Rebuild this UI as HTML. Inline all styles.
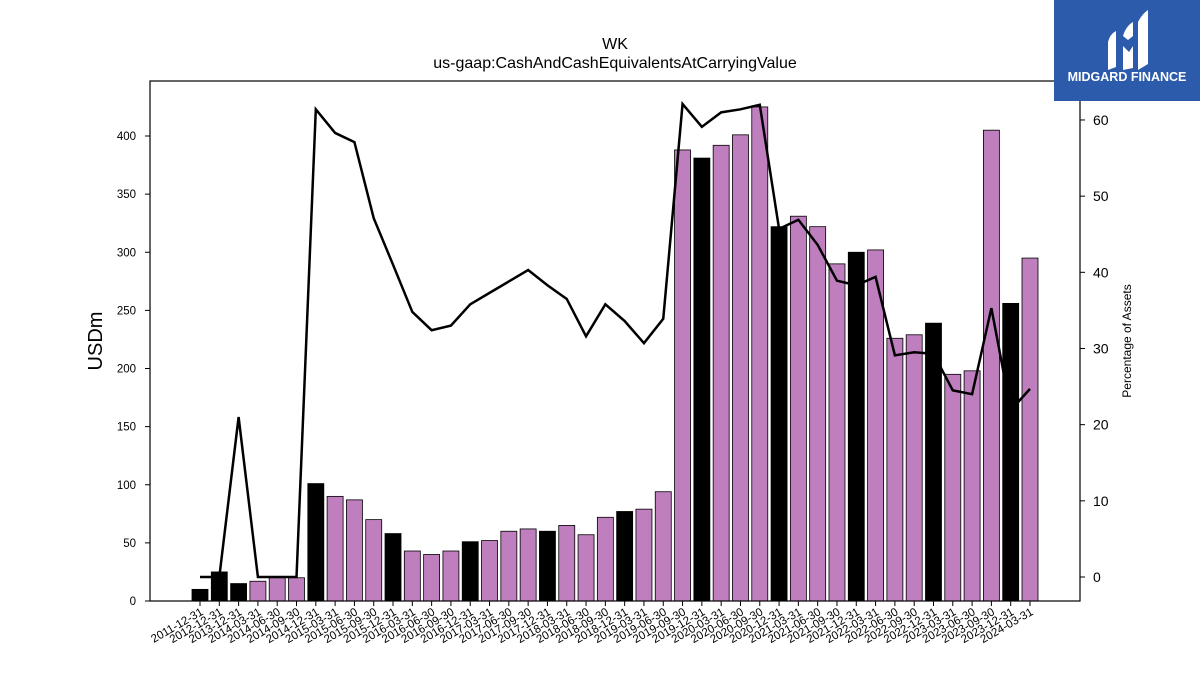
<!DOCTYPE html>
<html><head><meta charset="utf-8"><style>
html,body{margin:0;padding:0;background:#fff;}
svg{display:block;font-family:"Liberation Sans",sans-serif;}
</style></head><body>
<svg id="chart" width="1200" height="675" viewBox="0 0 1200 675" xmlns="http://www.w3.org/2000/svg">
<text x="615" y="49" text-anchor="middle" font-size="16">WK</text>
<text x="615" y="68" text-anchor="middle" font-size="16">us-gaap:CashAndCashEquivalentsAtCarryingValue</text>
<g id="bars"></g>
<g id="xticks"></g>
<g id="yticks"></g>
<g id="rticks"></g>
<path id="pctline" fill="none" stroke="#000" stroke-width="2.5"/>
<rect x="150" y="81" width="930" height="520" fill="none" stroke="#000" stroke-width="1.2"/>
<text x="102" y="341" text-anchor="middle" font-size="20" transform="rotate(-90 102 341)">USDm</text>
<text x="1131" y="341" text-anchor="middle" font-size="12" transform="rotate(-90 1131 341)">Percentage of Assets</text>
<g>
<rect x="1054" y="0" width="146" height="101" fill="#2d5bab"/>
<path d="M1108 70 L1108 42 Q1110 34 1116 31 L1116 67 Z" fill="#fff"/>
<path d="M1123 70 L1123 46 L1129 52 L1133 46 L1133 68 Z" fill="#fff"/>
<path d="M1123 36 Q1126 26 1133 22 L1133 36 L1128 40 Z" fill="#fff"/>
<path d="M1138 70 L1138 22 Q1142 14 1148 10 L1148 64 Z" fill="#fff"/>
<text x="1127" y="81" text-anchor="middle" font-size="12.5" font-weight="bold" fill="#fff">MIDGARD FINANCE</text>
</g>
</svg>
<script>
const categories=["2011-12-31","2012-12-31","2013-12-31","2014-03-31","2014-06-30","2014-09-30","2014-12-31","2015-03-31","2015-06-30","2015-09-30","2015-12-31","2016-03-31","2016-06-30","2016-09-30","2016-12-31","2017-03-31","2017-06-30","2017-09-30","2017-12-31","2018-03-31","2018-06-30","2018-09-30","2018-12-31","2019-03-31","2019-06-30","2019-09-30","2019-12-31","2020-03-31","2020-06-30","2020-09-30","2020-12-31","2021-03-31","2021-06-30","2021-09-30","2021-12-31","2022-03-31","2022-06-30","2022-09-30","2022-12-31","2023-03-31","2023-06-30","2023-09-30","2023-12-31","2024-03-31"];
const cashValues=[10,25,15,17,20,20,101,90,87,70,58,43,40,43,51,52,60,62,60,65,57,72,77,79,94,388,381,392,401,425,322,331,322,290,300,302,226,229,239,195,198,405,256,295];
const pctValues=[0,0,21,0,0,0,61.4,58.3,57.1,47.1,41,34.8,32.4,33,35.8,37.3,38.8,40.3,38.3,36.5,31.6,35.8,33.6,30.7,33.9,62.1,59.1,61,61.4,62,45.7,46.9,43.6,38.9,38.3,39.4,29.1,29.5,29.3,24.5,24,35.3,21.9,24.7];
const annualFlags=[1,1,1,0,0,0,1,0,0,0,1,0,0,0,1,0,0,0,1,0,0,0,1,0,0,0,1,0,0,0,1,0,0,0,1,0,0,0,1,0,0,0,1,0];
const leftTicks=[0,50,100,150,200,250,300,350,400];
const rightTicks=[0,10,20,30,40,50,60];
const NS="http://www.w3.org/2000/svg";
const xPos=i=>200+i*(830/(categories.length-1));
const yL=v=>601-v*1.1625;
const yR=v=>577-v*7.617;
function mk(t,a,p){const e=document.createElementNS(NS,t);for(const k in a)e.setAttribute(k,a[k]);p.appendChild(e);return e;}
const bars=document.getElementById('bars'),xt=document.getElementById('xticks'),yt=document.getElementById('yticks'),rt=document.getElementById('rticks');
cashValues.forEach((v,i)=>{
 const r=mk('rect',{x:xPos(i)-8,y:yL(v),width:16,height:yL(0)-yL(v),fill:annualFlags[i]?'#000':'#bf7fbf',stroke:'#000','stroke-width':0.8},bars);
 
 
});
categories.forEach((c,i)=>{
 const x=xPos(i);
 mk('line',{x1:x,y1:601,x2:x,y2:606,stroke:'#000'},xt);
 const t=mk('text',{x:x+4,y:614,'text-anchor':'end','font-size':11.5,transform:`rotate(-30 ${x+4} 614)`},xt);
 t.textContent=c;
 
 
});
leftTicks.forEach(v=>{
 const y=yL(v);
 mk('line',{x1:145,y1:y,x2:150,y2:y,stroke:'#000'},yt);
 const t=mk('text',{x:136,y:y+4,'text-anchor':'end','font-size':11.5},yt);
 t.textContent=v;
 
 
});
rightTicks.forEach(v=>{
 const y=yR(v);
 mk('line',{x1:1080,y1:y,x2:1085,y2:y,stroke:'#000'},rt);
 const t=mk('text',{x:1093,y:y+5,'font-size':14},rt);
 t.textContent=v;
 
 
});
document.getElementById('pctline').setAttribute('d',pctValues.map((v,i)=>(i?'L':'M')+xPos(i)+' '+yR(v)).join(' '));
</script>
</body></html>
